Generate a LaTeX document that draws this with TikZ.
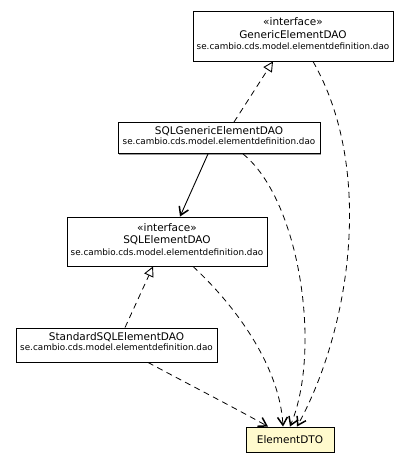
\documentclass[tikz,border=0pt]{standalone}
\usepackage{fontspec}
\setmainfont{DejaVu Sans}
\usetikzlibrary{arrows.meta,shadows}
\definecolor{dtofill}{HTML}{FFFACD}
\begin{document}
\begin{tikzpicture}[x=1pt,y=-1pt,
  cls/.style={draw, line width=0.9pt, fill=white, inner sep=0pt,
    drop shadow={shadow xshift=1.3pt, shadow yshift=-1.3pt, opacity=0.4, fill=black}},
  ttl/.style={font=\fontsize{10.5}{12}\selectfont, inner sep=0pt},
  pkg/.style={font=\fontsize{8.8}{10}\selectfont, inner sep=0pt},
  dep/.style={line width=0.8pt, dash pattern=on 6pt off 4.5pt,
    -{Straight Barb[length=8pt,width=10pt,line width=1.5pt]}},
  real/.style={line width=0.8pt, dash pattern=on 6pt off 4.5pt,
    -{Triangle[open,length=10pt,width=10pt,fill=white,line width=0.9pt]}},
  assoc/.style={line width=0.9pt, -{Straight Barb[length=8pt,width=10pt,line width=1.5pt]}}
]
\useasboundingbox (0,0) rectangle (409,469);

% GenericElementDAO
\node[cls, minimum width=200pt, minimum height=50pt] (gen) at (293,36) {};
\node[ttl] (genst) at (293,21.5) {«interface»};
\node[ttl] (genname) at (293,34.5) {GenericElementDAO};
\node[pkg] (genpkg) at (293,46) {se.cambio.cds.model.elementdefinition.dao};

% SQLGenericElementDAO
\node[cls, minimum width=202pt, minimum height=31pt] (sqlgen) at (219,138) {};
\node[ttl] (sqlgenname) at (219,131) {SQLGenericElementDAO};
\node[pkg] (sqlgenpkg) at (219,141.5) {se.cambio.cds.model.elementdefinition.dao};

% SQLElementDAO
\node[cls, minimum width=200pt, minimum height=49pt] (sqlel) at (167,241.5) {};
\node[ttl] (sqlelst) at (167,227.5) {«interface»};
\node[ttl] (sqlelname) at (167,240.5) {SQLElementDAO};
\node[pkg] (sqlelpkg) at (167,252) {se.cambio.cds.model.elementdefinition.dao};

% StandardSQLElementDAO
\node[cls, minimum width=201pt, minimum height=34pt] (std) at (116.5,345) {};
\node[ttl] (stdname) at (116.5,337) {StandardSQLElementDAO};
\node[pkg] (stdpkg) at (116.5,347.5) {se.cambio.cds.model.elementdefinition.dao};

% ElementDTO
\node[cls, fill=dtofill, minimum width=88pt, minimum height=25pt] (dto) at (290,439.5) {};
\node[ttl] (dtoname) at (290,439.5) {ElementDTO};

% realizations
\draw[real] ([xshift=15pt]sqlgen.north) -- ([xshift=-20pt]gen.south);
\draw[real] ([xshift=8.5pt]std.north) -- ([xshift=-14pt]sqlel.south);

% association
\draw[assoc] ([xshift=-11pt]sqlgen.south) -- ([xshift=13pt]sqlel.north);

% dependencies to ElementDTO
\draw[dep] ([xshift=20pt]gen.south) .. controls (375,170) and (350,330) .. ([xshift=7pt]dto.north);
\draw[dep] ([xshift=24pt]sqlgen.south) .. controls (300,200) and (322,350) .. (dto.north);
\draw[dep] ([xshift=26pt]sqlel.south) .. controls (240,310) and (280,370) .. ([xshift=-7pt]dto.north);
\draw[dep] ([xshift=31.5pt]std.south) .. controls (190,385) and (235,408) .. ([xshift=-22pt]dto.north);
\end{tikzpicture}
\end{document}
